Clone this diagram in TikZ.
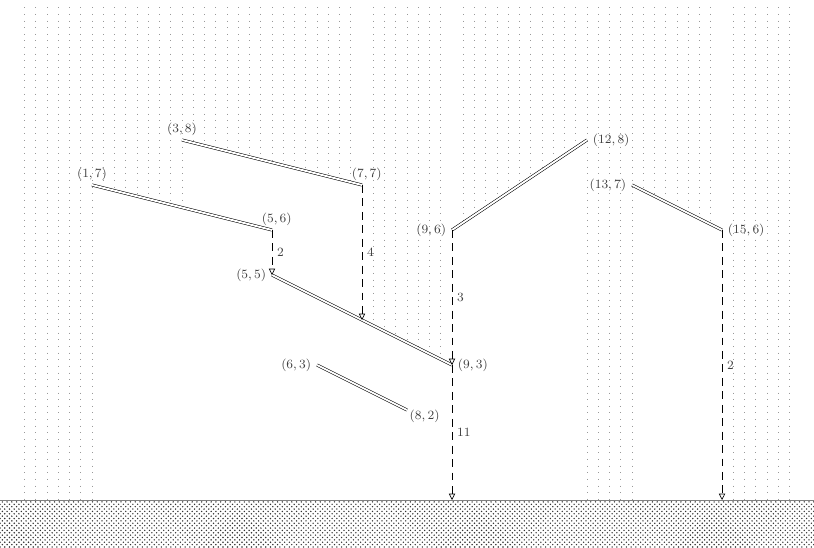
\documentclass[tikz,border=0pt]{standalone}
\usetikzlibrary{arrows.meta,patterns,positioning}
\begin{document}
\begin{tikzpicture}[x=1cm, y=1cm,
		rain/.style={gray!80, line width=0.5pt, dash pattern=on 0.5pt off 3.7pt},
		roof/.style={double, double distance=1.2pt, line width=0.35pt},
		flow/.style={dash pattern=on 5pt off 3.5pt, -{Triangle[open,length=4pt,width=4pt]}},
		pt/.style={font=\footnotesize, text=black!75, inner sep=1.5pt},
		amount/.style={font=\footnotesize, text=black!75, right, inner sep=3pt}]
		\useasboundingbox (-1.044,-1.044) rectangle (17.044,11.111);
		
		% Rain
		\foreach \x in {-0.5,-0.25,...,1} \draw[rain] (\x,10.95) -- (\x,0);
		\foreach \x in {1.25,1.5,...,3} \draw[rain] (\x,10.95) -- (\x,{7-(\x-1)/4});
		\foreach \x in {3.25,3.5,...,6.75} \draw[rain] (\x,10.95) -- (\x,{8-(\x-3)/4});
		\foreach \x in {7.25,7.5,...,8.75} \draw[rain] (\x,10.95) -- (\x,{5-(\x-5)/2});
		\foreach \x in {9.25,9.5,...,11.75} \draw[rain] (\x,10.95) -- (\x,{6+2*(\x-9)/3});
		\foreach \x in {12,12.25,...,13} \draw[rain] (\x,10.95) -- (\x,0);
		\foreach \x in {13.25,13.5,...,14.75} \draw[rain] (\x,10.95) -- (\x,{7-(\x-13)/2});
		\foreach \x in {15.25,15.5,...,16.5} \draw[rain] (\x,10.95) -- (\x,0);
		
		% Ground
		\fill[pattern=crosshatch dots, pattern color=black!80] (-1.044,-1.044) rectangle (17.044,0);
		\draw[gray] (-1.044,0) -- (17.044,0);
		
		% Define points
		\coordinate (a1) at (1,7);
		\coordinate (a2) at (5,6);
		\coordinate (b1) at (3,8);
		\coordinate (b2) at (7,7);
		\coordinate (c1) at (5,5);
		\coordinate (c2) at (9,3);
		\coordinate (d1) at (6,3);
		\coordinate (d2) at (8,2);
		\coordinate (e1) at (9,6);
		\coordinate (e2) at (12,8);
		\coordinate (f1) at (13,7);
		\coordinate (f2) at (15,6);
		\coordinate (bc) at (7,4);
		\coordinate (g9) at (9,0);
		\coordinate (g15) at (15,0);
		
		% Draw segments
		\draw[roof] (a1) -- (a2);
		\draw[roof] (b1) -- (b2);
		\draw[roof] (c1) -- (c2);
		\draw[roof] (d1) -- (d2);
		\draw[roof] (e1) -- (e2);
		\draw[roof] (f1) -- (f2);
		
		% Draw flows
		\draw[flow] (a2) -- node[amount] (na) {$2$} (c1);
		\draw[flow] (b2) -- node[amount] (nb) {$4$} (bc);
		\draw[flow] (e1) -- node[amount] (ne) {$3$} (c2);
		\draw[flow] (c2) -- node[amount] (nc) {$11$} (g9);
		\draw[flow] (f2) -- node[amount] (nf) {$2$} (g15);
		
		% Point labels
		\node[pt, above=1pt of a1] (la1) {$(1, 7)$};
		\node[pt, above=1pt of a2, xshift=3pt] (la2) {$(5, 6)$};
		\node[pt, above=1pt of b1] (lb1) {$(3, 8)$};
		\node[pt, above=1pt of b2, xshift=3pt] (lb2) {$(7, 7)$};
		\node[pt, left=2pt of c1] (lc1) {$(5, 5)$};
		\node[pt, right=2pt of c2] (lc2) {$(9, 3)$};
		\node[pt, left=2pt of d1] (ld1) {$(6, 3)$};
		\node[pt, below right=-2pt and 0pt of d2] (ld2) {$(8, 2)$};
		\node[pt, left=2pt of e1] (le1) {$(9, 6)$};
		\node[pt, right=2pt of e2] (le2) {$(12, 8)$};
		\node[pt, left=2pt of f1] (lf1) {$(13, 7)$};
		\node[pt, right=2pt of f2] (lf2) {$(15, 6)$};
	\end{tikzpicture}
\end{document}
